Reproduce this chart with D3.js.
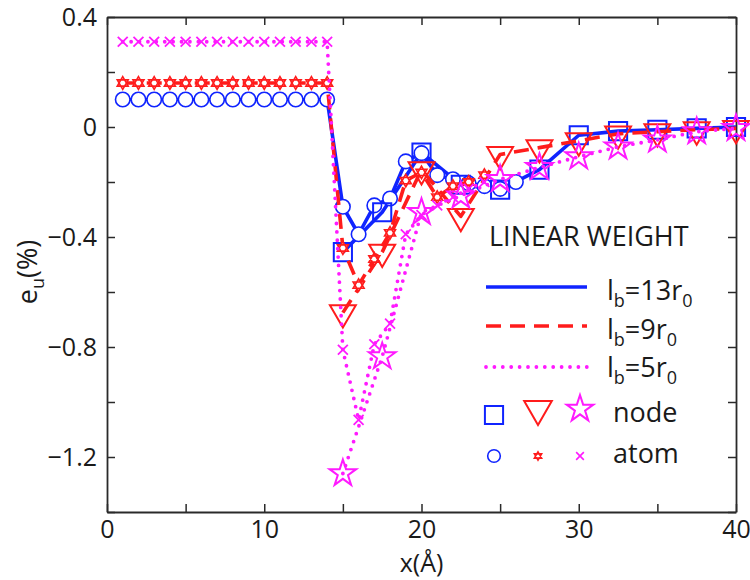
<!DOCTYPE html>
<html>
<head>
<meta charset="utf-8">
<script src="https://cdn.jsdelivr.net/npm/d3@7"></script>
<style>
  body { margin: 0; background: #fff; }
  svg text { font-family: "Open Sans", sans-serif; fill: #1a1a1a; }
</style>
</head>
<body>
<svg id="chart" width="750" height="580"></svg>
<script>
// ---- data: displacement error e_u (%) along x (Å) ----
// atomistic sites
const atomX = [1, 2, 3, 4, 5, 6, 7, 8, 9, 10, 11, 12, 13, 14, 15, 16, 17, 18, 19, 20, 21, 22, 23, 24];
const atomXBlue = [1, 2, 3, 4, 5, 6, 7, 8, 9, 10, 11, 12, 13, 14, 15, 16, 17, 18, 19, 20, 21, 22, 23, 24, 25, 26];
const atomBlue13 = [0.10, 0.10, 0.10, 0.10, 0.10, 0.10, 0.10, 0.10, 0.10, 0.10, 0.10, 0.10, 0.10, 0.10,
                    -0.29, -0.39, -0.285, -0.26, -0.125, -0.095, -0.175, -0.19, -0.205, -0.215, -0.225, -0.20];
const atomRed9 = [0.16, 0.16, 0.16, 0.16, 0.16, 0.16, 0.16, 0.16, 0.16, 0.16, 0.16, 0.16, 0.16, 0.16,
                  -0.44, -0.575, -0.48, -0.385, -0.195, -0.165, -0.255, -0.215, -0.20, -0.175];
const atomMag5 = [0.31, 0.31, 0.31, 0.31, 0.31, 0.31, 0.31, 0.31, 0.31, 0.31, 0.31, 0.31, 0.31, 0.31,
                  -0.81, -1.065, -0.79, -0.715, -0.39, -0.32, -0.285, -0.255, -0.225, -0.20];

// finite-element nodes
const nodeX = [15, 17.5, 20, 22.5, 25, 27.5, 30, 32.5, 35, 37.5, 40];
const nodeBlue13 = [-0.455, -0.31, -0.093, -0.21, -0.228, -0.155, -0.03, -0.015, -0.01, -0.005, 0];
const nodeRed9 = [-0.675, -0.455, -0.155, -0.325, -0.10, -0.075, -0.05, -0.025, -0.017, -0.01, -0.005];
const nodeMag5 = [-1.26, -0.835, -0.31, -0.25, -0.19, -0.147, -0.108, -0.072, -0.047, -0.017, -0.005];

// axes
const xTicks = [0, 5, 10, 15, 20, 25, 30, 35, 40];
const xTickLabels = [0, 10, 20, 30, 40];
const yTicks = [-1.4, -1.2, -1.0, -0.8, -0.6, -0.4, -0.2, 0, 0.2, 0.4];
const yTickLabels = [0.4, 0, -0.4, -0.8, -1.2];

const BLUE = "#1024ff", RED = "#ff1c1c", MAG = "#ff1aff";

// ---- custom marker shapes ----
const symbolTriangleDown = {
  draw(ctx, size) {
    const y = Math.sqrt(size / (Math.sqrt(3) * 3));
    ctx.moveTo(0, 2 * y);
    ctx.lineTo(-Math.sqrt(3) * y, -y);
    ctx.lineTo(Math.sqrt(3) * y, -y);
    ctx.closePath();
  }
};
const symbolHexagram = {
  draw(ctx, size) {
    const r = Math.sqrt(size) / 2;
    for (const off of [-Math.PI / 2, Math.PI / 2]) {
      for (let i = 0; i < 3; i++) {
        const a = off + i * 2 * Math.PI / 3;
        const px = r * Math.cos(a), py = r * Math.sin(a);
        if (i === 0) ctx.moveTo(px, py); else ctx.lineTo(px, py);
      }
      ctx.closePath();
    }
  }
};

const svg = d3.select("#chart");
const x = d3.scaleLinear().domain([0, 40]).range([107, 736]);
const y = d3.scaleLinear().domain([-1.4, 0.4]).range([512, 17]);

// ---- frame and ticks ----
const fmtY = d => d === 0 ? "0" : d3.format(".1f")(d);
const axisColor = "#2a2a2a";

const gB = svg.append("g").attr("transform", `translate(0,${y(-1.4)})`)
  .call(d3.axisBottom(x).tickValues(xTicks).tickSize(-8).tickSizeOuter(0).tickPadding(8)
    .tickFormat(d => xTickLabels.includes(d) ? d : ""));
const gT = svg.append("g").attr("transform", `translate(0,${y(0.4)})`)
  .call(d3.axisTop(x).tickValues(xTicks).tickSize(-8).tickSizeOuter(0).tickFormat(""));
const gL = svg.append("g").attr("transform", `translate(${x(0)},0)`)
  .call(d3.axisLeft(y).tickValues(yTicks).tickSize(-8).tickSizeOuter(0).tickPadding(10)
    .tickFormat(d => yTickLabels.some(v => Math.abs(v - d) < 1e-9) ? fmtY(d) : ""));
const gR = svg.append("g").attr("transform", `translate(${x(40)},0)`)
  .call(d3.axisRight(y).tickValues(yTicks).tickSize(-8).tickSizeOuter(0).tickFormat(""));

for (const g of [gB, gT, gL, gR]) {
  g.select(".domain").attr("stroke", axisColor).attr("stroke-width", 1.8);
  g.selectAll(".tick line").attr("stroke", axisColor).attr("stroke-width", 1.5);
  g.selectAll(".tick text").attr("font-size", 25).attr("font-family", "Open Sans").attr("fill", "#1a1a1a");
}

// axis titles
svg.append("text").attr("x", x(20)).attr("y", 572).attr("text-anchor", "middle")
  .attr("font-size", 25).text("x(Å)");
const yt = svg.append("text").attr("transform", "translate(37,272) rotate(-90)")
  .attr("text-anchor", "middle").attr("font-size", 27);
yt.append("tspan").text("e");
yt.append("tspan").attr("font-size", 18).attr("dy", 7).text("u");
yt.append("tspan").attr("dy", -7).text("(%)");

// ---- series ----
const series = [
  { color: BLUE, dash: null, width: 3.6, cap: "butt",
    atomsX: atomXBlue, atomsY: atomBlue13, atomSym: d3.symbolCircle, atomSize: 165, atomFill: "#fff", atomStroke: 1.6,
    nodesY: nodeBlue13, nodeSym: d3.symbolSquare, nodeSize: 330 },
  { color: RED, dash: "15,9", width: 3.6, cap: "butt",
    atomsX: atomX, atomsY: atomRed9, atomSym: symbolHexagram, atomSize: 160, atomFill: "#fff", atomStroke: 1.6,
    nodesY: nodeRed9, nodeSym: symbolTriangleDown, nodeSize: 290 },
  { color: MAG, dash: "0,8.4", width: 3.8, cap: "round",
    atomsX: atomX, atomsY: atomMag5, atomSym: d3.symbolX, atomSize: 66, atomFill: "none", atomStroke: 1.8,
    nodesY: nodeMag5, nodeSym: d3.symbolStar, nodeSize: 220 }
];

const line = d3.line().x(d => x(d[0])).y(d => y(d[1]));

for (const s of series) {
  const g = svg.append("g");
  const atoms = s.atomsX.map((v, i) => [v, s.atomsY[i]]);
  const nodes = nodeX.map((v, i) => [v, s.nodesY[i]]);
  for (const pts of [atoms, nodes]) {
    g.append("path").datum(pts).attr("d", line)
      .attr("fill", "none").attr("stroke", s.color).attr("stroke-width", s.width)
      .attr("stroke-linecap", s.cap).attr("stroke-linejoin", "round")
      .attr("stroke-dasharray", s.dash);
  }
  g.selectAll(".atom").data(atoms).join("path").attr("class", "atom")
    .attr("transform", d => `translate(${x(d[0])},${y(d[1])})`)
    .attr("d", d3.symbol().type(s.atomSym).size(s.atomSize))
    .attr("fill", s.atomFill).attr("stroke", s.color).attr("stroke-width", s.atomStroke);
  g.selectAll(".node").data(nodes).join("path").attr("class", "node")
    .attr("transform", d => `translate(${x(d[0])},${y(d[1])})`)
    .attr("d", d3.symbol().type(s.nodeSym).size(s.nodeSize))
    .attr("fill", "none").attr("stroke", s.color).attr("stroke-width", 2);
}

// ---- legend ----
const lg = svg.append("g");
lg.append("text").attr("x", 489).attr("y", 246).attr("font-size", 27).text("LINEAR WEIGHT");

const legendLines = [
  { s: series[0], y: 287, base: 300, n: "13" },
  { s: series[1], y: 326, base: 339, n: "9" },
  { s: series[2], y: 367, base: 377, n: "5" }
];
for (const L of legendLines) {
  lg.append("path").datum([[486, L.y], [587, L.y]]).attr("d", d3.line())
    .attr("stroke", L.s.color).attr("stroke-width", L.s.width)
    .attr("stroke-linecap", L.s.cap).attr("stroke-dasharray", L.s.dash);
  const t = lg.append("text").attr("x", 607).attr("y", L.base).attr("font-size", 27);
  t.append("tspan").text("l");
  t.append("tspan").attr("font-size", 18).attr("dy", 7).text("b");
  t.append("tspan").attr("dy", -7).text(`=${L.n}r`);
  t.append("tspan").attr("font-size", 18).attr("dy", 7).text("0");
}

const legendNodeX = [494, 538, 580];
series.forEach((s, i) => {
  lg.append("path").attr("transform", `translate(${legendNodeX[i]},${i === 0 ? 415 : 409})`)
    .attr("d", d3.symbol().type(s.nodeSym).size(s.nodeSize + (i === 1 ? 40 : 0)))
    .attr("fill", "none").attr("stroke", s.color).attr("stroke-width", 2);
  lg.append("path").attr("transform", `translate(${legendNodeX[i]},456)`)
    .attr("d", d3.symbol().type(s.atomSym).size(i === 0 ? 125 : (i === 1 ? 70 : 40)))
    .attr("fill", s.atomFill).attr("stroke", s.color).attr("stroke-width", 1.6);
});
lg.append("text").attr("x", 613).attr("y", 422).attr("font-size", 27).text("node");
lg.append("text").attr("x", 613).attr("y", 463).attr("font-size", 27).text("atom");
</script>
</body>
</html>
